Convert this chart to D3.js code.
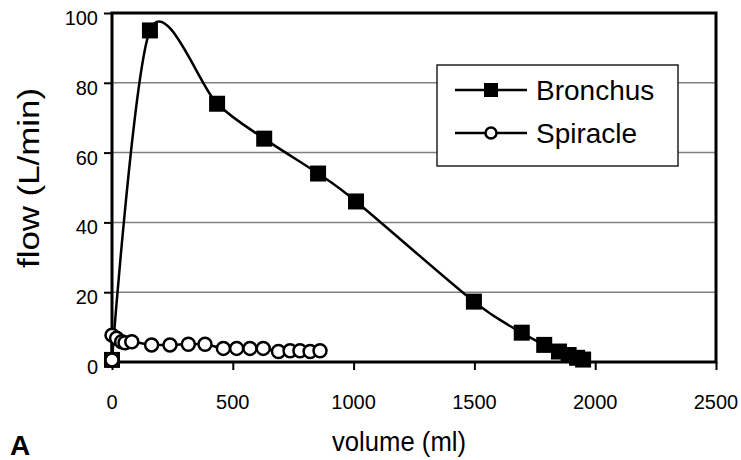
<!DOCTYPE html>
<html>
<head>
<meta charset="utf-8">
<script src="https://cdn.jsdelivr.net/npm/d3@7"></script>
<style>
  html, body { margin: 0; padding: 0; background: #fff; }
  svg { display: block; font-family: "Liberation Sans", Arial, sans-serif; }
</style>
</head>
<body>
<svg id="chart" width="741" height="460"></svg>
<script>
// values
const bronchusVol  = [0, 157, 435, 630, 853, 1010, 1498, 1696, 1789, 1850, 1890, 1925, 1950];
const bronchusFlow = [0.6, 95, 74, 64, 54, 46, 17.3, 8.4, 4.9, 3, 2, 1.2, 0.7];

const spiracleVol  = [0, 0, 19, 40, 54, 82, 164, 240, 316, 385, 461, 516, 571, 626, 689, 737, 778, 820, 861];
const spiracleFlow = [0.6, 7.7, 6.8, 5.8, 5.5, 5.8, 4.9, 4.9, 5.1, 5.1, 3.9, 3.9, 3.9, 3.9, 3.0, 3.2, 3.2, 3.0, 3.2];

const xTicks = [0, 500, 1000, 1500, 2000, 2500];
const yTicks = [0, 20, 40, 60, 80, 100];
const seriesNames = ['Bronchus', 'Spiracle'];

const svg = d3.select('#chart');
const plotL = 112, plotR = 716, plotT = 13, plotB = 362;

const x = d3.scaleLinear().domain([0, 2500]).range([plotL, plotR]);
const y = d3.scaleLinear().domain([0, 100]).range([plotB, plotT]);

// gridlines
svg.append('g')
    .selectAll('line')
    .data(yTicks.filter(d => d > 0 && d < 100))
    .enter().append('line')
    .attr('x1', plotL).attr('x2', plotR)
    .attr('y1', d => y(d)).attr('y2', d => y(d))
    .attr('stroke', '#808080').attr('stroke-width', 1.5);

// axes (outer ticks, labels drawn separately)
const xAxis = svg.append('g')
    .attr('transform', `translate(0,${plotB})`)
    .call(d3.axisBottom(x).tickValues(xTicks).tickSize(8).tickFormat(''));
const yAxis = svg.append('g')
    .attr('transform', `translate(${plotL},0)`)
    .call(d3.axisLeft(y).tickValues(yTicks).tickSize(8).tickFormat(''));
[xAxis, yAxis].forEach(g => {
    g.select('.domain').remove();
    g.selectAll('.tick line').attr('stroke', '#000').attr('stroke-width', 2);
});

svg.append('g').selectAll('text')
    .data(xTicks).enter().append('text')
    .attr('x', d => x(d)).attr('y', 409)
    .attr('text-anchor', 'middle')
    .attr('font-size', 20)
    .text(d => d);

svg.append('g').selectAll('text')
    .data(yTicks).enter().append('text')
    .attr('x', 98).attr('y', d => y(d) + 12)
    .attr('text-anchor', 'end')
    .attr('font-size', 20)
    .text(d => d);

// plot frame
svg.append('rect')
    .attr('x', plotL).attr('y', plotT)
    .attr('width', plotR - plotL).attr('height', plotB - plotT)
    .attr('fill', 'none').attr('stroke', '#000').attr('stroke-width', 3);

// axis titles
svg.append('text')
    .attr('x', 399).attr('y', 451)
    .attr('text-anchor', 'middle')
    .attr('font-size', 27)
    .attr('textLength', 134).attr('lengthAdjust', 'spacingAndGlyphs')
    .text('volume (ml)');

svg.append('text')
    .attr('transform', 'translate(39,178) rotate(-90)')
    .attr('text-anchor', 'middle')
    .attr('font-size', 30)
    .attr('textLength', 180).attr('lengthAdjust', 'spacingAndGlyphs')
    .text('flow (L/min)');

svg.append('text')
    .attr('x', 10).attr('y', 455)
    .attr('font-size', 28).attr('font-weight', 'bold')
    .text('A');

// legend
const legend = svg.append('g');
legend.append('rect')
    .attr('x', 437).attr('y', 65).attr('width', 241).attr('height', 101)
    .attr('fill', '#fff').attr('stroke', '#222').attr('stroke-width', 1.5);
seriesNames.forEach((name, i) => {
    const cy = 90 + i * 43;
    legend.append('line')
        .attr('x1', 455).attr('x2', 527).attr('y1', cy).attr('y2', cy)
        .attr('stroke', '#000').attr('stroke-width', 2.5);
    if (i === 0) {
        legend.append('rect')
            .attr('x', 491 - 7).attr('y', cy - 7).attr('width', 14).attr('height', 14)
            .attr('fill', '#000');
    } else {
        legend.append('circle')
            .attr('cx', 491).attr('cy', cy).attr('r', 5.5)
            .attr('fill', '#fff').attr('stroke', '#000').attr('stroke-width', 2.5);
    }
    legend.append('text')
        .attr('x', 536).attr('y', cy + 10)
        .attr('font-size', 28)
        .text(name);
});

// series
const line = d3.line()
    .x(d => x(d[0]))
    .y(d => y(d[1]))
    .curve(d3.curveCardinal.tension(0.1));

const bronchus = bronchusVol.map((v, i) => [v, bronchusFlow[i]]);
const spiracle = spiracleVol.map((v, i) => [v, spiracleFlow[i]]);

svg.append('path')
    .datum(bronchus)
    .attr('d', line)
    .attr('fill', 'none').attr('stroke', '#000').attr('stroke-width', 2.5);

svg.append('g').selectAll('rect')
    .data(bronchus).enter().append('rect')
    .attr('x', d => x(d[0]) - 8).attr('y', d => y(d[1]) - 8)
    .attr('width', 16).attr('height', 16)
    .attr('fill', '#000');

svg.append('path')
    .datum(spiracle)
    .attr('d', line)
    .attr('fill', 'none').attr('stroke', '#000').attr('stroke-width', 2.5);

svg.append('g').selectAll('circle')
    .data(spiracle).enter().append('circle')
    .attr('cx', d => x(d[0])).attr('cy', d => y(d[1]))
    .attr('r', 6.5)
    .attr('fill', '#fff').attr('stroke', '#000').attr('stroke-width', 2.5);
</script>
</body>
</html>
